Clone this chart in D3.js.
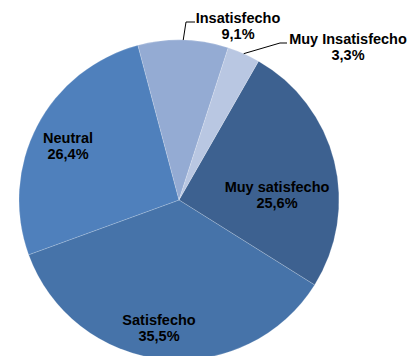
<!DOCTYPE html>
<html><head><meta charset="utf-8">
<script src="https://cdn.jsdelivr.net/npm/d3@7"></script>
<style>body{margin:0;background:#fff}svg{display:block}</style>
</head><body>
<svg id="c" width="415" height="356"></svg>
<script>
const categories = ["Muy satisfecho","Satisfecho","Neutral","Insatisfecho","Muy Insatisfecho"];
const values = [25.6, 35.5, 26.4, 9.1, 3.3];
const colors = ["#3d6190","#4673a9","#4f80bc","#94abd3","#b9c7e2"];
// label layout (relative to pie centre): x, first baseline y
const labelPos = [[98,-8],[-20,125],[-111,-57],[59,-177],[169,-156]];
const leaders = [null,null,null,[[186,22],[195,22]],[[280,43],[287,43]]];

const svg = d3.select("#c");
const cx = 179, cy = 200, R = 160;
const start = 29.8*Math.PI/180;
const pie = d3.pie().sort(null).value(d=>d).startAngle(start).endAngle(start+2*Math.PI);
const arcs = pie(values);
const arc = d3.arc().innerRadius(0).outerRadius(R);
const g = svg.append("g").attr("transform",`translate(${cx},${cy})`);
g.selectAll("path").data(arcs).join("path")
  .attr("d",arc).attr("fill",(d,i)=>colors[i])
  .attr("stroke","#ffffff").attr("stroke-opacity",0.35).attr("stroke-width",0.5);

const fmt = v => d3.format(".1f")(v).replace(".",",")+"%";
arcs.forEach((a,i)=>{
  if(leaders[i]){
    const m=(a.startAngle+a.endAngle)/2;
    const p0=[cx+R*Math.sin(m), cy-R*Math.cos(m)];
    const pts=[p0,...leaders[i]];
    svg.append("path").attr("d",d3.line()(pts)).attr("fill","none").attr("stroke","#000").attr("stroke-width",1);
  }
  const t = svg.append("text").attr("text-anchor","middle")
    .attr("font-family","Liberation Sans, Arial, sans-serif").attr("font-weight","bold")
    .attr("font-size",14.5).attr("fill","#000");
  const x=cx+labelPos[i][0], y=cy+labelPos[i][1];
  t.append("tspan").attr("x",x).attr("y",y).text(categories[i]);
  t.append("tspan").attr("x",x).attr("y",y+16).text(fmt(values[i]));
});
</script>
</body></html>
